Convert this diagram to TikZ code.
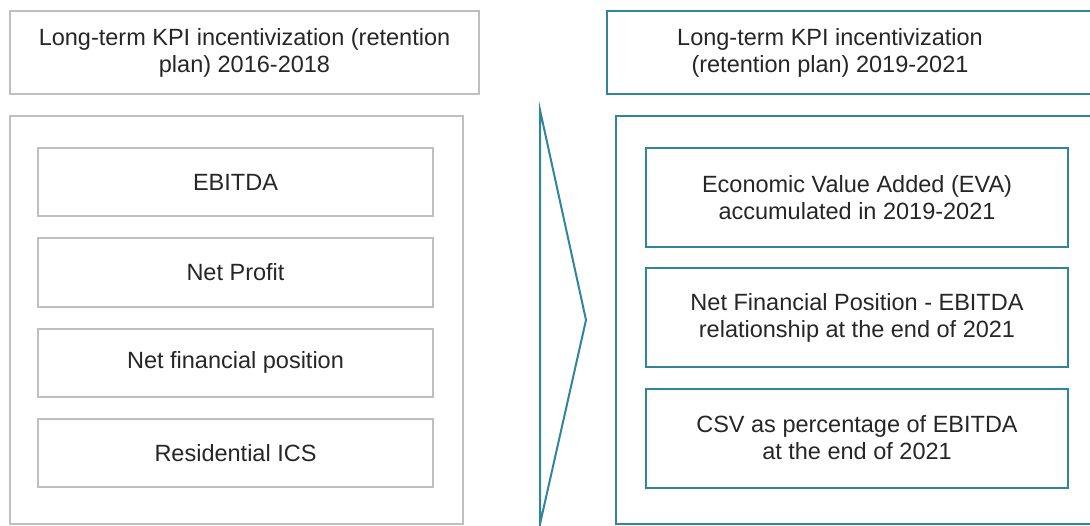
\documentclass[tikz,border=0pt]{standalone}
\usepackage{fontspec}
\setmainfont{Liberation Sans}
\usetikzlibrary{positioning}
\usepackage{xcolor}
\definecolor{boxgray}{RGB}{191,191,191}
\definecolor{petrol}{RGB}{49,133,155}
\definecolor{textgray}{RGB}{38,38,38}
\tikzset{graybox/.style={rectangle, draw=boxgray, line width=1pt, inner sep=0pt},tealbox/.style={rectangle, draw=petrol, line width=1pt, inner sep=0pt}}
\tikzset{kpitext/.style={text=textgray, align=center, font=\fontsize{11.75pt}{13.5pt}\selectfont}}

\begin{document}
\begin{tikzpicture}[
        line join=miter,
        oldkpi/.style={graybox, kpitext, minimum width=197.5pt, minimum height=34pt},
        newkpi/.style={tealbox, kpitext, minimum width=211pt, minimum height=49.5pt},
    ]
        \useasboundingbox (0pt, 0pt) rectangle (545pt, 262.5pt);
        \clip (0pt, 0pt) rectangle (545pt, 262.5pt);
        % Old plan
        \node[graybox, kpitext, minimum width=234.5pt, minimum height=41.5pt] (oldhead) at (122.25pt, 236.25pt) {Long-term KPI incentivization (retention\\plan) 2016-2018};
        \node[graybox, minimum width=226.5pt, minimum height=204pt] (oldframe) at (118.25pt, 102.5pt) {};
        \foreach \y/\name/\kpi in {
            171.25pt/ebitda/EBITDA,
            126.25pt/profit/Net Profit,
            81.25pt/nfp/Net financial position,
            36pt/ics/Residential ICS} {
            \node[oldkpi] (\name) at (117.75pt, \y) {\kpi};
        }
        % Chevron
        \draw[petrol, line width=1pt] (270pt, 207.5pt) -- (293pt, 102.5pt) -- (270pt, 0.5pt) -- cycle;
        % New plan
        \node[tealbox, minimum width=246.5pt, minimum height=41.5pt] (newhead) at (426.75pt, 236.25pt) {};
        \node[kpitext] (newheadtext) at (415pt, 236.25pt) {Long-term KPI incentivization\\(retention plan) 2019-2021};
        \node[tealbox, minimum width=242pt, minimum height=204pt] (newframe) at (429pt, 102.5pt) {};
        \node[newkpi] (eva) at (428.5pt, 163.75pt) {Economic Value Added (EVA)\\accumulated in 2019-2021};
        \node[newkpi] (ratio) at (428.5pt, 103.75pt) {Net Financial Position - EBITDA\\relationship at the end of 2021};
        \node[newkpi] (csv) at (428.5pt, 43.5pt) {CSV as percentage of EBITDA\\at the end of 2021};
    \end{tikzpicture}
\end{document}
